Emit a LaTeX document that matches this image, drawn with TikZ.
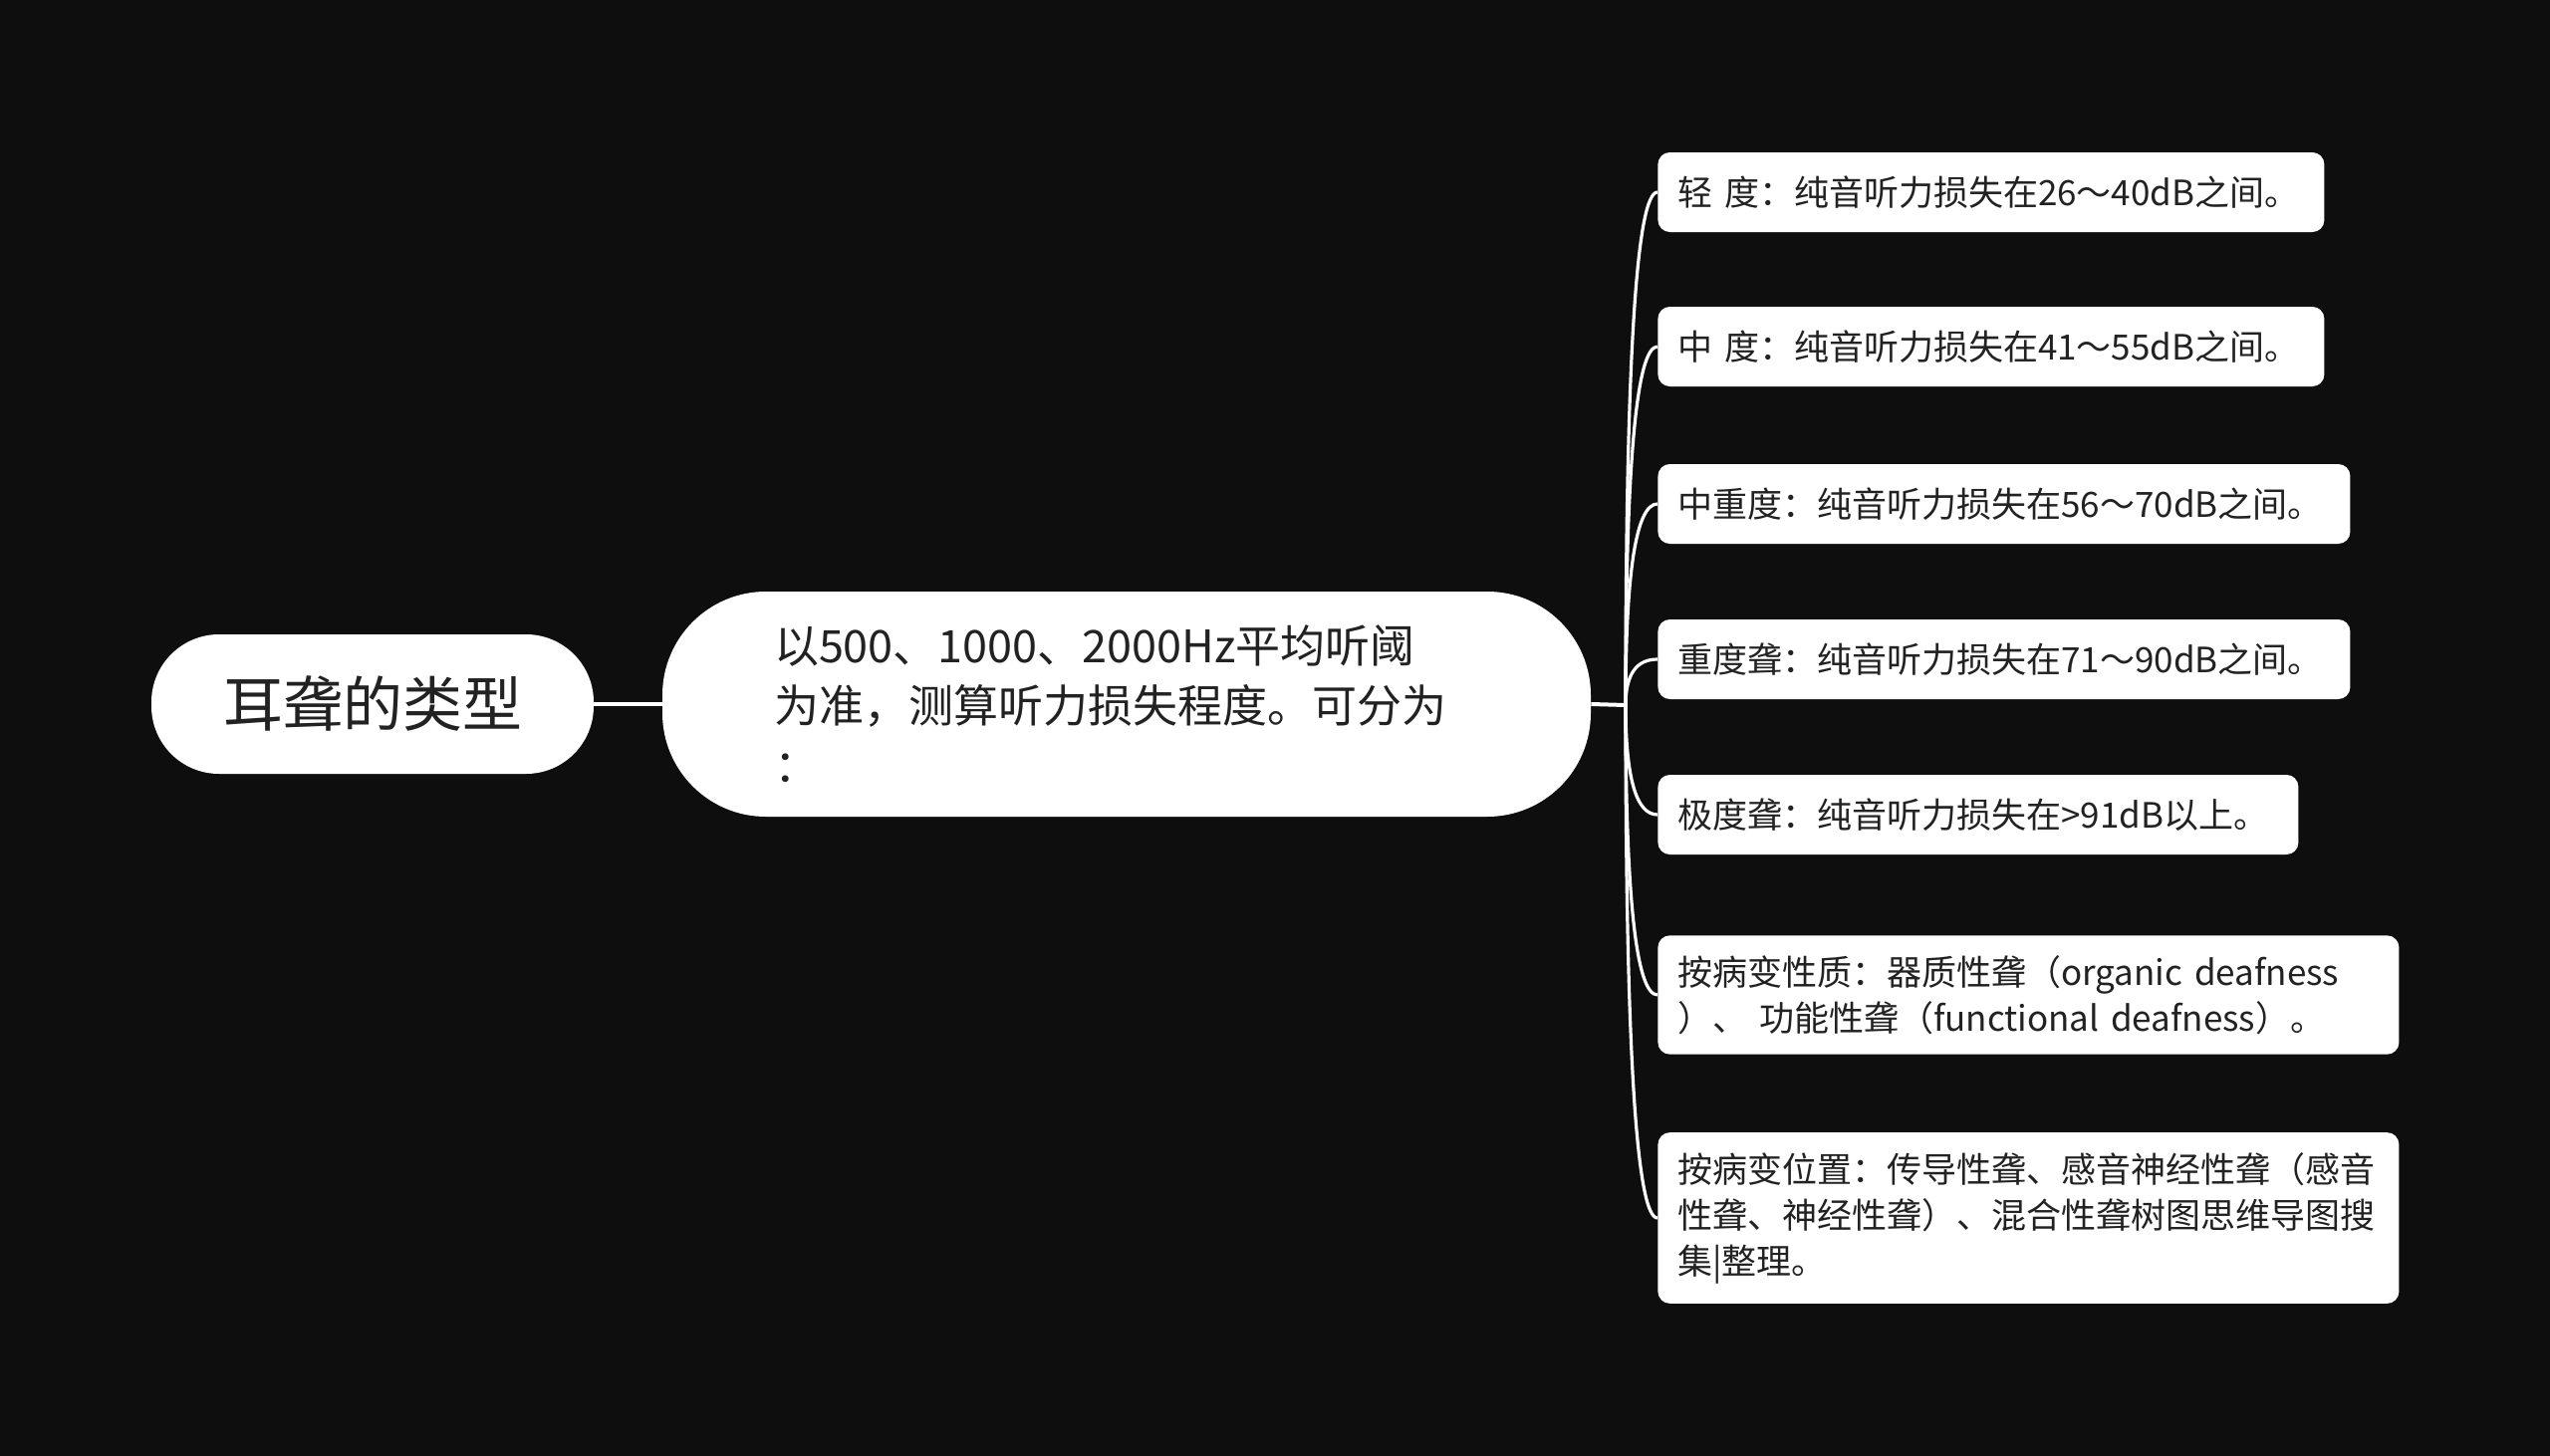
\documentclass[tikz,border=0pt]{standalone}
\usepackage{fontspec}
\setmainfont{Noto Sans CJK SC}
\usetikzlibrary{calc}
\definecolor{bg}{RGB}{14,14,14}
\definecolor{ink}{RGB}{34,34,34}
\tikzset{
  rootbox/.style={fill=white, rounded corners=34pt, minimum width=222pt, minimum height=70pt,
    font=\fontsize{30}{36}\selectfont, text=ink},
  topicbox/.style={fill=white, rounded corners=52pt, minimum width=466pt, minimum height=113pt,
    text width=354pt, align=left, font=\fontsize{22.5}{30}\selectfont, text=ink},
  leafbox/.style={fill=white, rounded corners=6pt, anchor=west, minimum height=40pt,
    inner xsep=10pt, inner ysep=10pt, align=left, font=\fontsize{17.5}{23}\selectfont, text=ink},
  link/.style={draw=white, line width=2pt},
  branch/.style={draw=white, line width=1.6pt},
}
\begin{document}
\begin{tikzpicture}[x=0.5pt, y=-0.5pt]
  \fill[bg] (0,0) rectangle (2560,1462);
  \useasboundingbox (0,0) rectangle (2560,1462);
  % main nodes
  \node[rootbox] (root) at (374,707) {耳聋的类型};
  \node[topicbox] (topic) at (1131,707) {以500、1000、2000Hz平均听阈\\为准，测算听力损失程度。可分为\\：};
  \coordinate (sp) at (1632,708);
  % leaves
  \node[leafbox, text width=314.5pt] (l1) at (1664,193) {轻 度：纯音听力损失在26～40dB之间。};
  \node[leafbox, text width=314.5pt] (l2) at (1664,348) {中 度：纯音听力损失在41～55dB之间。};
  \node[leafbox, text width=327.5pt] (l3) at (1664,506) {中重度：纯音听力损失在56～70dB之间。};
  \node[leafbox, text width=327.5pt] (l4) at (1664,662) {重度聋：纯音听力损失在71～90dB之间。};
  \node[leafbox, text width=301.5pt] (l5) at (1664,818) {极度聋：纯音听力损失在>91dB以上。};
  \node[leafbox, text width=352pt] (l6) at (1664,999) {按病变性质：器质性聋（organic deafness\\）、 功能性聋（functional deafness）。};
  \node[leafbox, text width=352pt] (l7) at (1664,1223) {按病变位置：传导性聋、感音神经性聋（感音\\性聋、神经性聋）、混合性聋树图思维导图搜\\集|整理。};
  % connectors
  \draw[link] (root.east) -- (topic.west);
  \draw[link] (topic.east) -- (sp);
  \foreach \i in {1,...,7}
    \draw[branch] (sp) .. controls ($(sp)!0.667!(sp|-l\i.west)$) and ($(l\i.west)!0.667!(sp|-l\i.west)$) .. (l\i.west);
\end{tikzpicture}
\end{document}
